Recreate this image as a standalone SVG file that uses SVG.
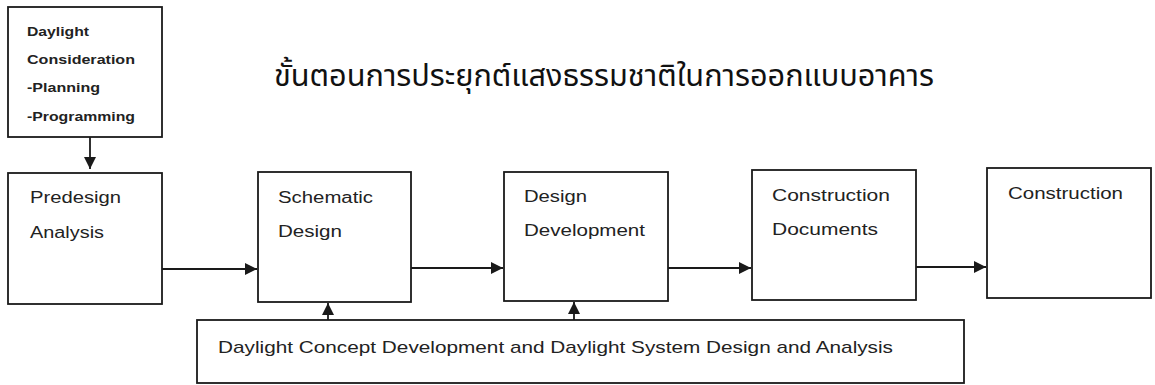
<svg xmlns="http://www.w3.org/2000/svg" width="1155" height="385" viewBox="0 0 1155 385">
<defs>
<style>
.box{fill:#fff;stroke:#1a1a1a;stroke-width:1.8}
.lbl{font-family:"Liberation Sans",Arial,sans-serif;font-size:16px;fill:#222}
.sm{font-family:"Liberation Sans",Arial,sans-serif;font-size:12px;font-weight:bold;fill:#222}
.ttl{font-family:"Noto Sans Thai","Noto Sans","DejaVu Sans",sans-serif;font-size:31px;fill:#111}
.con{stroke:#1a1a1a;stroke-width:1.8;fill:none}
</style>
<marker id="ah" viewBox="0 0 10 10" refX="10" refY="5" markerWidth="14" markerHeight="12" markerUnits="userSpaceOnUse" orient="auto">
<path d="M0,0 L10,5 L0,10 z" fill="#1a1a1a"/>
</marker>
</defs>
<rect width="1155" height="385" fill="#fff"/>
<text class="ttl" x="274" y="86" textLength="660" lengthAdjust="spacingAndGlyphs">ขั้นตอนการประยุกต์แสงธรรมชาติในการออกแบบอาคาร</text>
<g id="daylight-consideration">
<rect class="box" x="8" y="7" width="154" height="130"/>
<text class="sm" x="27" y="36" textLength="62" lengthAdjust="spacingAndGlyphs">Daylight</text>
<text class="sm" x="27" y="64" textLength="108" lengthAdjust="spacingAndGlyphs">Consideration</text>
<text class="sm" x="27" y="92" textLength="73" lengthAdjust="spacingAndGlyphs">-Planning</text>
<text class="sm" x="27" y="121" textLength="108" lengthAdjust="spacingAndGlyphs">-Programming</text>
</g>
<g id="predesign">
<rect class="box" x="8" y="173" width="154" height="131"/>
<text class="lbl" x="30" y="203" textLength="91" lengthAdjust="spacingAndGlyphs">Predesign</text>
<text class="lbl" x="30" y="238" textLength="74" lengthAdjust="spacingAndGlyphs">Analysis</text>
</g>
<g id="schematic">
<rect class="box" x="258" y="172" width="153" height="130"/>
<text class="lbl" x="278" y="203" textLength="95" lengthAdjust="spacingAndGlyphs">Schematic</text>
<text class="lbl" x="278" y="237" textLength="64" lengthAdjust="spacingAndGlyphs">Design</text>
</g>
<g id="design-development">
<rect class="box" x="504" y="172" width="164" height="129"/>
<text class="lbl" x="524" y="202" textLength="63" lengthAdjust="spacingAndGlyphs">Design</text>
<text class="lbl" x="524" y="236" textLength="121" lengthAdjust="spacingAndGlyphs">Development</text>
</g>
<g id="construction-documents">
<rect class="box" x="752" y="170" width="164" height="130"/>
<text class="lbl" x="772" y="201" textLength="118" lengthAdjust="spacingAndGlyphs">Construction</text>
<text class="lbl" x="772" y="235" textLength="106" lengthAdjust="spacingAndGlyphs">Documents</text>
</g>
<g id="construction">
<rect class="box" x="987" y="168" width="164" height="130"/>
<text class="lbl" x="1008" y="199" textLength="115" lengthAdjust="spacingAndGlyphs">Construction</text>
</g>
<g id="daylight-concept">
<rect class="box" x="197" y="320" width="767" height="63"/>
<text class="lbl" x="218" y="353" style="font-size:17px" textLength="675" lengthAdjust="spacingAndGlyphs">Daylight Concept Development and Daylight System Design and Analysis</text>
</g>
<g id="connectors">
<line class="con" x1="90" y1="137" x2="90" y2="169" marker-end="url(#ah)"/>
<line class="con" x1="162" y1="269" x2="257" y2="269" marker-end="url(#ah)"/>
<line class="con" x1="411" y1="268" x2="503" y2="268" marker-end="url(#ah)"/>
<line class="con" x1="668" y1="268" x2="751" y2="268" marker-end="url(#ah)"/>
<line class="con" x1="916" y1="267" x2="986" y2="267" marker-end="url(#ah)"/>
<line class="con" x1="328" y1="320" x2="328" y2="303" marker-end="url(#ah)"/>
<line class="con" x1="574" y1="320" x2="574" y2="302" marker-end="url(#ah)"/>
</g>
</svg>
